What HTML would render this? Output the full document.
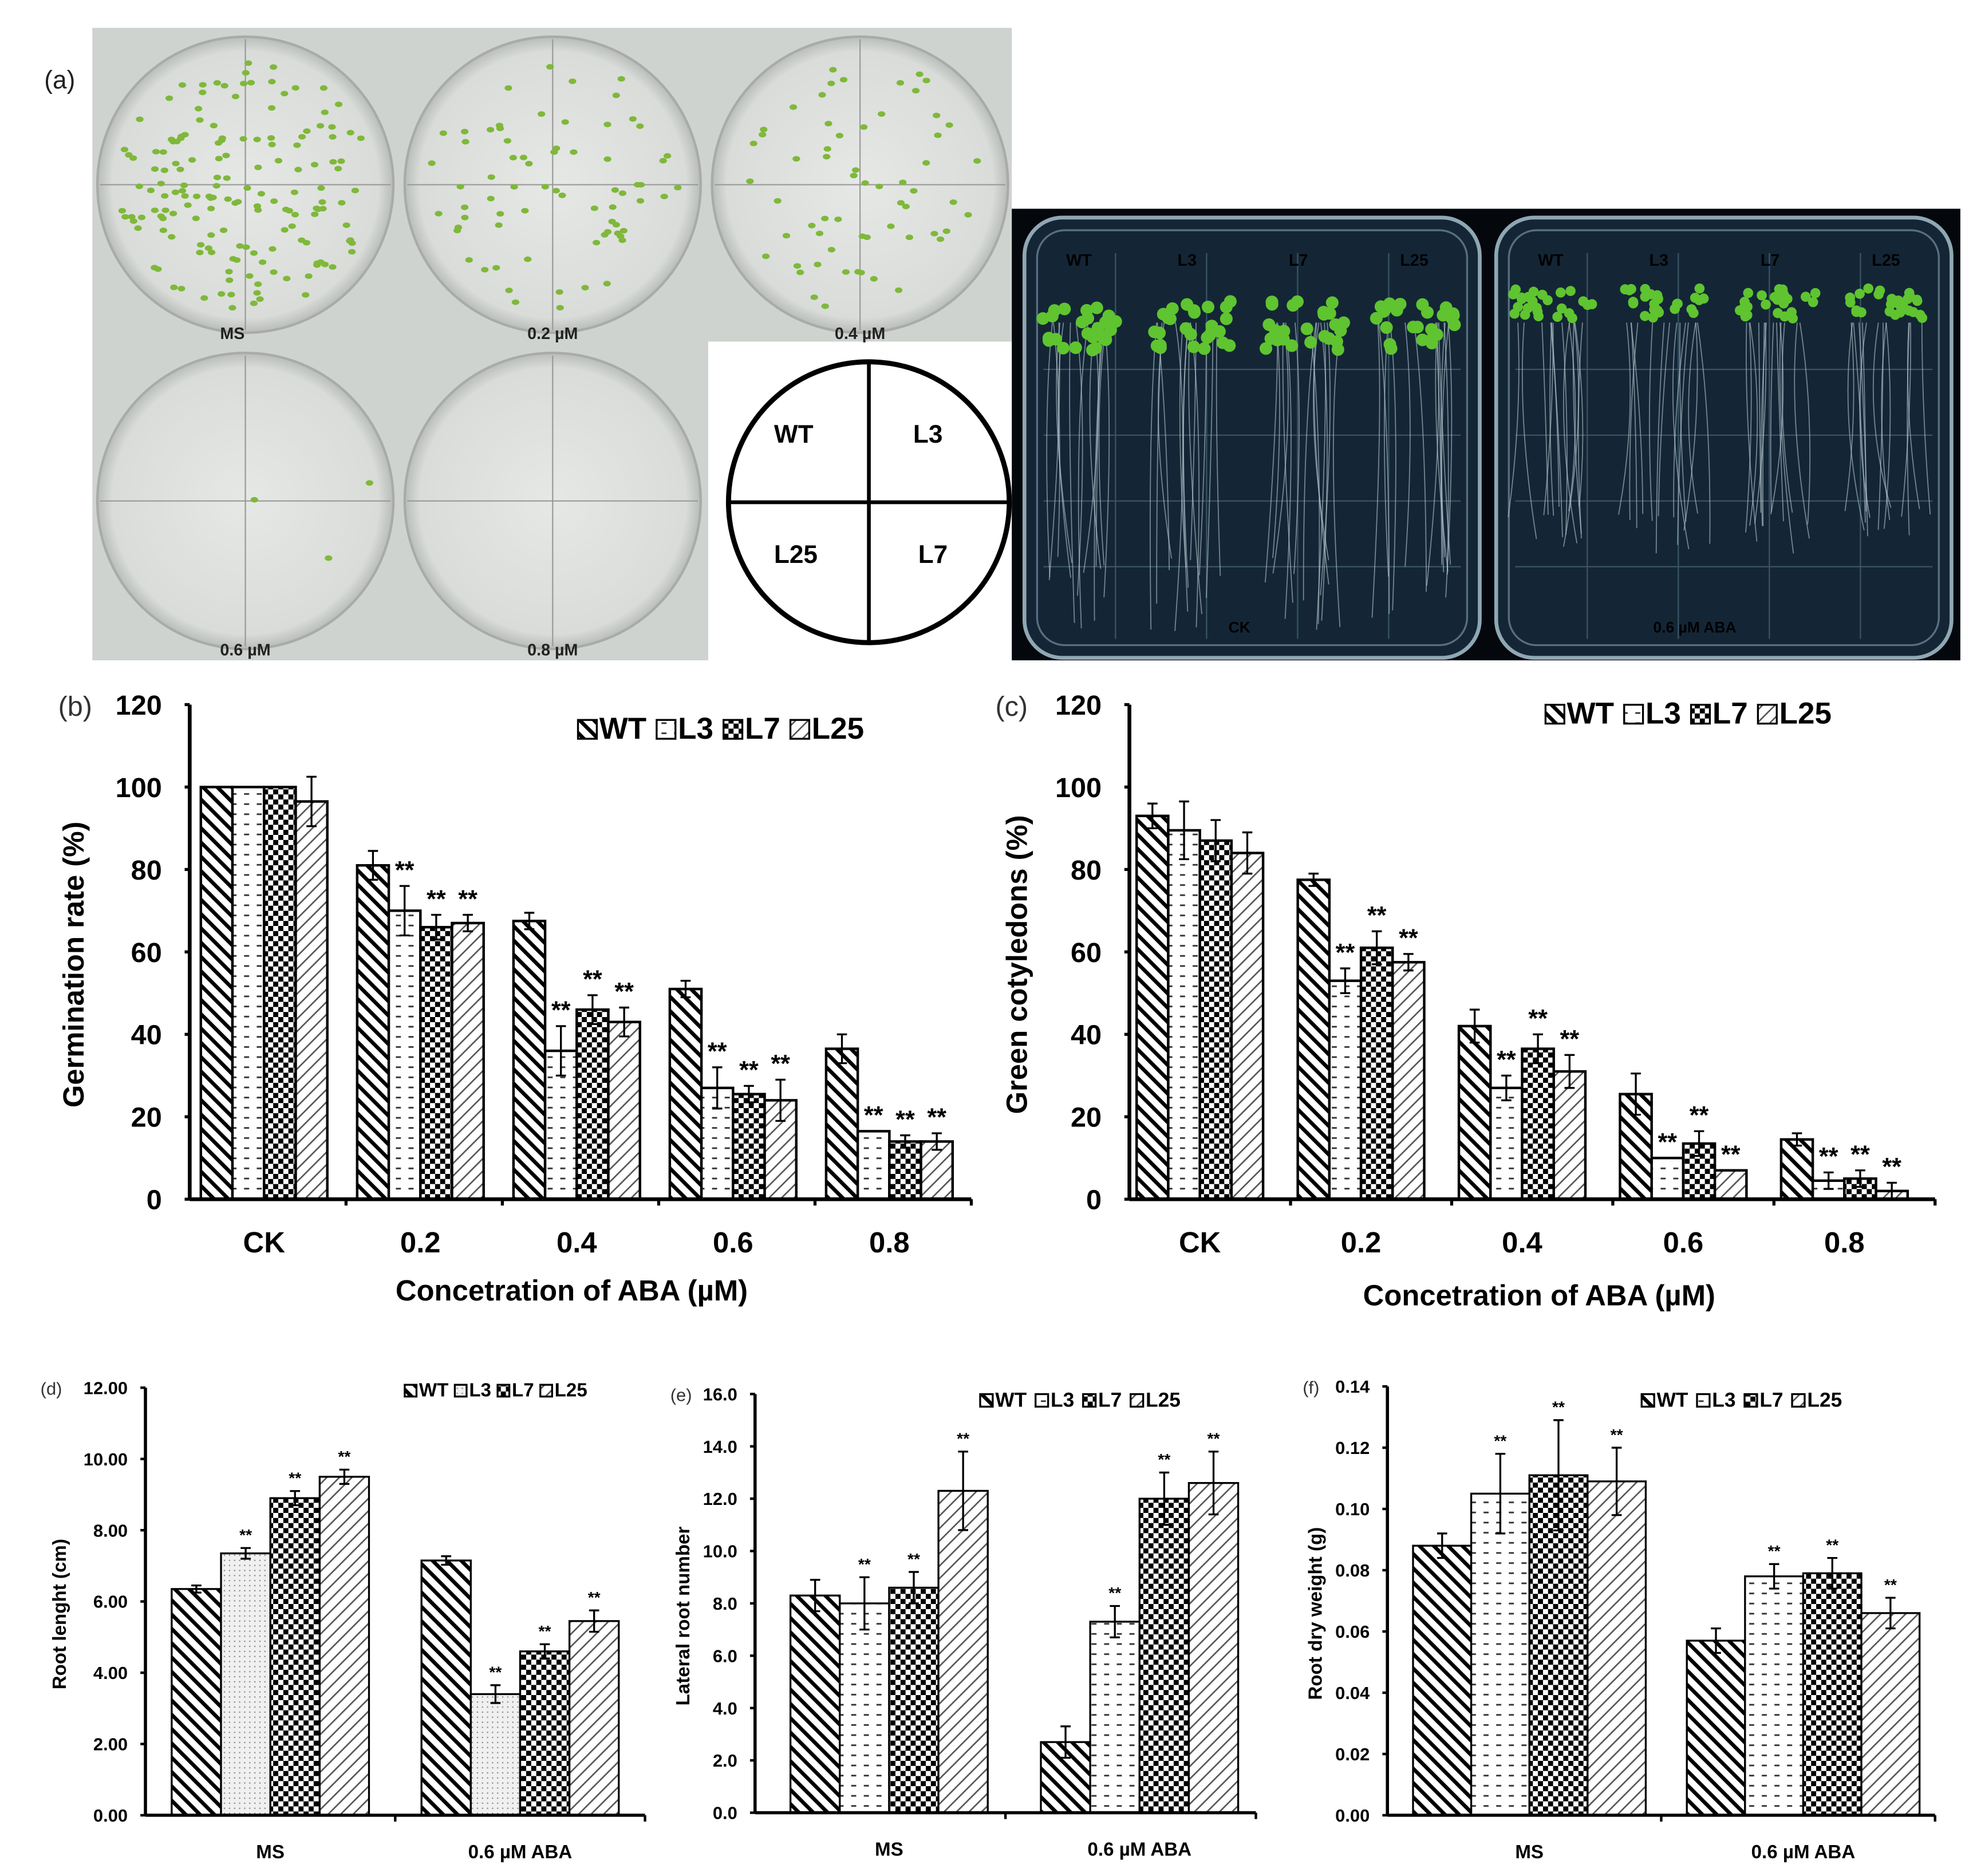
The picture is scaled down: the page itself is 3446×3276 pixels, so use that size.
<!DOCTYPE html>
<html><head><meta charset="utf-8">
<style>
html,body{margin:0;padding:0;background:#fff;}
svg{display:block;}
text{font-family:"Liberation Sans",Arial,sans-serif;}
</style></head>
<body>
<svg id="fig" width="3446" height="3276" viewBox="0 0 1560 1483" xmlns="http://www.w3.org/2000/svg">
<defs>
<pattern id="pWT" patternUnits="userSpaceOnUse" width="8" height="8" patternTransform="rotate(-45)"><rect width="8" height="8" fill="#fff"/><rect x="0" y="0" width="3" height="8" fill="#000"/></pattern>
<pattern id="pL3" patternUnits="userSpaceOnUse" width="10" height="8"><rect width="10" height="8" fill="#fff"/><rect x="3" y="3" width="4" height="1.3" fill="#333"/></pattern>
<pattern id="pL3d" patternUnits="userSpaceOnUse" width="4" height="4"><rect width="4" height="4" fill="#f0f0f0"/><rect x="1" y="1" width="1" height="1" fill="#888"/></pattern>
<pattern id="pL7" patternUnits="userSpaceOnUse" width="8" height="8"><rect width="8" height="8" fill="#fff"/><rect width="4" height="4" fill="#000"/><rect x="4" y="4" width="4" height="4" fill="#000"/></pattern>
<pattern id="pL25" patternUnits="userSpaceOnUse" width="7" height="7" patternTransform="rotate(45)"><rect width="7" height="7" fill="#fff"/><rect x="0" y="0" width="1.2" height="7" fill="#555"/></pattern>
<radialGradient id="dish" cx="50%" cy="50%" r="50%"><stop offset="0" stop-color="#e6e8e6"/><stop offset="0.9" stop-color="#d9dcd9"/><stop offset="1" stop-color="#b9bdb9"/></radialGradient>
</defs>
<g id="panelA"></g>
<g id="charts"></g>
</svg>
<script>
const NS="http://www.w3.org/2000/svg";
function mk(tag,attrs,parent,txt){const e=document.createElementNS(NS,tag);for(const k in attrs)e.setAttribute(k,attrs[k]);if(txt!==undefined)e.textContent=txt;parent.appendChild(e);return e;}
const A=document.getElementById('panelA');
const C=document.getElementById('charts');

// ---------- Panel (a) photos ----------
let lab=mk('text',{x:35,y:70,'font-size':20,fill:'#222'},A,'(a)');


mk('rect',{x:73,y:22,width:727,height:248,fill:'#cfd3cf'},A);
mk('rect',{x:73,y:270,width:487,height:252,fill:'#cfd3cf'},A);
const dishes=[[194,146,'MS',160],[437,146,'0.2 µM',70],[680,146,'0.4 µM',60],[194,396,'0.6 µM',3],[437,396,'0.8 µM',0]];
let seed=7;function rnd(){seed=(seed*9301+49297)%233280;return seed/233280;}
dishes.forEach(d=>{
  const g=mk('g',{},A);
  
  
  mk('circle',{cx:d[0],cy:d[1],r:117,fill:'url(#dish)',stroke:'#aaa','stroke-width':2},g);
  mk('line',{x1:d[0]-115,y1:d[1],x2:d[0]+115,y2:d[1],stroke:'#999','stroke-width':1},g);
  mk('line',{x1:d[0],y1:d[1]-115,x2:d[0],y2:d[1]+115,stroke:'#999','stroke-width':1},g);
  for(let i=0;i<d[3];i++){const a=rnd()*6.283,r=Math.sqrt(rnd())*100;mk('ellipse',{cx:d[0]+r*Math.cos(a),cy:d[1]+r*Math.sin(a),rx:3,ry:2.2,fill:'#7fb83a'},g);}
  mk('text',{x:d[0]-20,y:d[1]+122,'font-size':13,'font-weight':'bold','font-family':'Liberation Serif',fill:'#222'},g,d[2]);
});
const dg=mk('g',{},A);


mk('circle',{cx:687,cy:397,r:111,fill:'#fff',stroke:'#000','stroke-width':4},dg);
mk('line',{x1:576,y1:397,x2:798,y2:397,stroke:'#000','stroke-width':3},dg);
mk('line',{x1:687,y1:286,x2:687,y2:508,stroke:'#000','stroke-width':3},dg);
[['WT',612,350],['L3',722,350],['L25',612,445],['L7',726,445]].forEach(t=>mk('text',{x:t[1],y:t[2],'font-size':20,'font-weight':'bold','font-family':'Liberation Serif'},dg,t[0]));
const rp=mk('g',{},A);


mk('rect',{x:800,y:165,width:750,height:357,fill:'#04080d'},rp);
[[810,'CK',980],[1183,'0.6 µM ABA',1340]].forEach((p,pi)=>{
  mk('rect',{x:p[0],y:172,width:360,height:348,rx:30,fill:'#142636',stroke:'#8fa7b3','stroke-width':3},rp);
  mk('rect',{x:p[0]+10,y:182,width:340,height:328,rx:22,fill:'none',stroke:'#567080','stroke-width':1.5},rp);
  for(let k=1;k<5;k++)mk('line',{x1:p[0]+k*72,y1:200,x2:p[0]+k*72,y2:505,stroke:'#3a5566','stroke-width':1},rp);
  for(let k=1;k<5;k++)mk('line',{x1:p[0]+15,y1:240+k*52,x2:p[0]+345,y2:240+k*52,stroke:'#3a5566','stroke-width':1},rp);
  ['WT','L3','L7','L25'].forEach((n,j)=>{
    const cx=p[0]+45+j*88;
    for(let r=0;r<14;r++){const x0=cx-30+rnd()*60;mk('path',{d:`M${x0} 255 Q${x0+rnd()*24-12} ${330} ${x0+rnd()*20-10} ${pi?400+rnd()*40:440+rnd()*60}`,stroke:'#b8c8d0','stroke-width':0.8,fill:'none',opacity:0.6},rp);}
    for(let l=0;l<26;l++)mk('circle',{cx:cx-32+rnd()*64,cy:(pi?240:250)+rnd()*(pi?24:40)-12,r:pi?4:5,fill:'#5fc430'},rp);
    mk('text',{x:cx-12,y:210,'font-size':13,'font-weight':'bold','font-family':'Liberation Serif',fill:'#000'},rp,n);
  });
  mk('text',{x:p[2],y:500,'font-size':12,'font-weight':'bold','font-family':'Liberation Serif',fill:'#000','text-anchor':'middle'},rp,p[1]);
});

// ---------- chart data ----------
const seriesNames=['WT','L3','L7','L25'];
const bCats=['CK','0.2','0.4','0.6','0.8'];
const bWT=[100,81,67.5,51,36.5], bL3=[100,70,36,27,16.5], bL7=[100,66,46,25.5,14], bL25=[96.5,67,43,24,14];
const bErrWT=[0,3.5,2,2,3.5], bErrL3=[0,6,6,5,0], bErrL7=[0,3,3.5,2,1.5], bErrL25=[6,2,3.5,5,2];
const bTicks=['0','20','40','60','80','100','120'];
const cWT=[93,77.5,42,25.5,14.5], cL3=[89.5,53,27,10,4.5], cL7=[87,61,36.5,13.5,5], cL25=[84,57.5,31,7,2];
const cErrWT=[3,1.5,4,5,1.5], cErrL3=[7,3,3,0,2], cErrL7=[5,4,3.5,3,2], cErrL25=[5,2,4,0,2];
const dCats=['MS','0.6 µM ABA'];
const dWT=[6.35,7.15], dL3=[7.35,3.4], dL7=[8.9,4.6], dL25=[9.5,5.45];
const dErrWT=[0.1,0.12], dErrL3=[0.15,0.25], dErrL7=[0.2,0.2], dErrL25=[0.2,0.3];
const dTicks=['0.00','2.00','4.00','6.00','8.00','10.00','12.00'];
const eWT=[8.3,2.7], eL3=[8.0,7.3], eL7=[8.6,12.0], eL25=[12.3,12.6];
const eErrWT=[0.6,0.6], eErrL3=[1.0,0.6], eErrL7=[0.6,1.0], eErrL25=[1.5,1.2];
const eTicks=['0.0','2.0','4.0','6.0','8.0','10.0','12.0','14.0','16.0'];
const fWT=[0.088,0.057], fL3=[0.105,0.078], fL7=[0.111,0.079], fL25=[0.109,0.066];
const fErrWT=[0.004,0.004], fErrL3=[0.013,0.004], fErrL7=[0.018,0.005], fErrL25=[0.011,0.005];
const fTicks=['0.00','0.02','0.04','0.06','0.08','0.10','0.12','0.14'];

function chart(o){
  const g=mk('g',{},C);
  
  
  const yS=v=>o.y0-(v/o.max)*(o.y0-o.yTop);
  const n=o.cats.length;
  const step=(o.xEnd-o.ax)/n;
  const xC=i=>o.ax+step*(i+0.5)+(o.shift||0);
  o.series.forEach((s,si)=>{
    s.forEach((v,ci)=>{
      const x=xC(ci)+(si-2)*o.bw;
      const r=mk('rect',{x:x,y:yS(v),width:o.bw,height:o.y0-yS(v),fill:'url(#'+o.pats[si]+')',stroke:'#000','stroke-width':o.sw},g);
      
      
      const e=o.errs[si][ci];
      if(e>0){const cx=x+o.bw/2;
        mk('path',{d:`M${cx} ${yS(v+e)}V${yS(v-e)}M${cx-4} ${yS(v+e)}h8M${cx-4} ${yS(v-e)}h8`,stroke:'#000','stroke-width':1.5,fill:'none'},g);}
      if(si>0&&o.star(ci)){
        const st=mk('text',{x:x+o.bw/2,y:yS(v+e)-6,'font-size':o.fs*0.85,'font-weight':'bold','text-anchor':'middle'},g,'**');
        
        
      }
    });
  });
  mk('line',{x1:o.ax,y1:o.y0,x2:o.ax,y2:o.yTop,stroke:'#000','stroke-width':o.aw},g);
  mk('line',{x1:o.ax,y1:o.y0,x2:o.xEnd,y2:o.y0,stroke:'#000','stroke-width':o.aw},g);
  o.ticks.forEach((t,i)=>{
    const v=o.max*i/(o.ticks.length-1);const y=yS(v);
    mk('line',{x1:o.ax-4,y1:y,x2:o.ax,y2:y,stroke:'#000','stroke-width':o.aw*0.8},g);
    const tl=mk('text',{x:o.ax-o.lg,y:y+o.tfs*0.36,'font-size':o.tfs,'font-weight':'bold','text-anchor':'end'},g,t);
    
    
  });
  for(let i=1;i<=n;i++){const x=o.ax+step*i;mk('line',{x1:x,y1:o.y0,x2:x,y2:o.y0+5,stroke:'#000','stroke-width':o.aw*0.8},g);}
  o.cats.forEach((c,i)=>{
    const t=mk('text',{x:xC(i),y:o.y0+o.cy,'font-size':o.cfs,'font-weight':'bold','text-anchor':'middle'},g,c);
    
    
  });
  const yt=mk('text',{x:o.ytx,y:(o.y0+o.yTop)/2+10,'font-size':o.fs,'font-weight':'bold','text-anchor':'middle',transform:`rotate(-90 ${o.ytx} ${(o.y0+o.yTop)/2+10})`},g,o.ytitle);
  
  
  if(o.xtitle){const xt=mk('text',{x:o.xtx,y:o.xty,'font-size':o.fs,'font-weight':'bold','text-anchor':'middle'},g,o.xtitle);
    
    }
  const pl=mk('text',{x:o.plx,y:o.yTop+o.tfs*0.4,'font-size':o.tfs,fill:'#333'},g,o.plabel);
  
  
  let lx=o.legX;
  seriesNames.forEach((s,si)=>{
    const le=mk('g',{},g);
    
    
    const sz=o.lfs*0.62;
    mk('rect',{x:lx,y:o.legY-sz,width:sz,height:sz,fill:'url(#'+o.pats[si]+')',stroke:'#000','stroke-width':1.5},le);
    const tt=mk('text',{x:lx+sz+2,y:o.legY,'font-size':o.lfs,'font-weight':'bold'},le,s);
    lx+=sz+2+tt.getComputedTextLength()+o.lgap;
  });
}
chart({name:'chart-b-germination-rate',ax:150,y0:948,yTop:557,max:120,xEnd:768,shift:-3,bw:25,cats:bCats,
  series:[bWT,bL3,bL7,bL25],errs:[bErrWT,bErrL3,bErrL7,bErrL25],pats:['pWT','pL3','pL7','pL25'],star:ci=>ci>0,
  ticks:bTicks,fs:23,tfs:22,cfs:23,cy:42,lg:22,aw:3,sw:2,ytitle:'Germination rate (%)',ytx:66,xtitle:'Concetration of ABA (µM)',xtx:452,xty:1028,
  plabel:'(b)',plx:46,legX:457,legY:584,lfs:24,lgap:8});
chart({name:'chart-c-green-cotyledons',ax:893,y0:948,yTop:557,max:120,xEnd:1530,shift:-8,bw:25,cats:bCats,
  series:[cWT,cL3,cL7,cL25],errs:[cErrWT,cErrL3,cErrL7,cErrL25],pats:['pWT','pL3','pL7','pL25'],star:ci=>ci>0,
  ticks:bTicks,fs:23,tfs:22,cfs:23,cy:42,lg:22,aw:3,sw:2,ytitle:'Green cotyledons (%)',ytx:812,xtitle:'Concetration of ABA (µM)',xtx:1217,xty:1032,
  plabel:'(c)',plx:787,legX:1222,legY:572,lfs:24,lgap:8});
chart({name:'chart-d-root-length',ax:115,y0:1435,yTop:1097,max:12,xEnd:510,shift:0,bw:39,cats:dCats,
  series:[dWT,dL3,dL7,dL25],errs:[dErrWT,dErrL3,dErrL7,dErrL25],pats:['pWT','pL3d','pL7','pL25'],star:()=>true,
  ticks:dTicks,fs:15,tfs:14,cfs:15,cy:34,lg:14,aw:2.5,sw:1.5,ytitle:'Root lenght (cm)',ytx:52,
  plabel:'(d)',plx:32,legX:320,legY:1104,lfs:15,lgap:5});
chart({name:'chart-e-lateral-root-number',ax:597,y0:1433,yTop:1102,max:16,xEnd:993,shift:7,bw:39,cats:dCats,
  series:[eWT,eL3,eL7,eL25],errs:[eErrWT,eErrL3,eErrL7,eErrL25],pats:['pWT','pL3','pL7','pL25'],star:()=>true,
  ticks:eTicks,fs:15,tfs:14,cfs:15,cy:34,lg:14,aw:2.5,sw:1.5,ytitle:'Lateral root number',ytx:545,
  plabel:'(e)',plx:530,legX:775,legY:1112,lfs:16,lgap:7});
chart({name:'chart-f-root-dry-weight',ax:1097,y0:1435,yTop:1096,max:0.14,xEnd:1530,shift:4,bw:46,cats:dCats,
  series:[fWT,fL3,fL7,fL25],errs:[fErrWT,fErrL3,fErrL7,fErrL25],pats:['pWT','pL3','pL7','pL25'],star:ci=>true,
  ticks:fTicks,fs:15,tfs:14,cfs:15,cy:34,lg:14,aw:2.5,sw:1.5,ytitle:'Root dry weight (g)',ytx:1045,
  plabel:'(f)',plx:1030,legX:1298,legY:1112,lfs:16,lgap:7});
</script>
</body></html>
